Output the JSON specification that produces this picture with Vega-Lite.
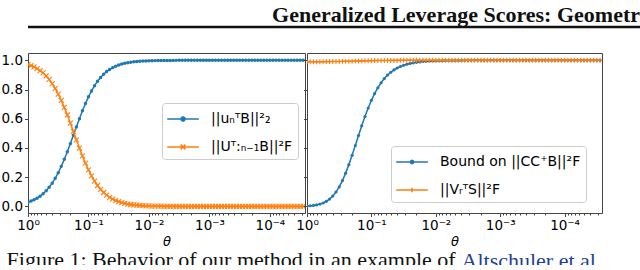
{
"$schema": "https://vega.github.io/schema/vega-lite/v6.json",
"padding": {"left": 0, "top": 3, "right": 0, "bottom": -7},
"background": "white",
"config": {
  "font": "DejaVu Sans",
  "view": {"stroke": "#444", "strokeWidth": 1},
  "axis": {"labelFont": "DejaVu Sans", "labelFontSize": 13.5, "labelColor": "#000", "tickColor": "#444", "domain": false, "grid": false, "titleFont": "DejaVu Sans", "titleFontSize": 13, "titleFontWeight": "normal", "titleColor": "#000"},
  "legend": {"labelFont": "DejaVu Sans", "labelFontSize": 14, "labelColor": "#000", "labelOffset": 22, "symbolSize": 400, "fillColor": "rgba(255,255,255,0.85)", "strokeColor": "#cccccc", "cornerRadius": 3, "padding": 5, "rowPadding": 10, "title": null}
},
"title": {"text": "Figure 1: Behavior of our method in an example of", "orient": "bottom", "anchor": "start", "font": "Liberation Serif", "fontSize": 22, "fontWeight": "normal", "color": "#111", "offset": -22, "dx": 6},
"datasets": {"d": [
{"t":1,"b1":0.0291,"o1":0.9709,"b2":0.003,"o2":0.9903},
{"t":0.8913,"b1":0.0364,"o1":0.9636,"b2":0.0046,"o2":0.9904},
{"t":0.7943,"b1":0.0454,"o1":0.9546,"b2":0.007,"o2":0.9905},
{"t":0.7079,"b1":0.0565,"o1":0.9435,"b2":0.0106,"o2":0.9906},
{"t":0.631,"b1":0.0701,"o1":0.9299,"b2":0.016,"o2":0.9907},
{"t":0.5623,"b1":0.0867,"o1":0.9133,"b2":0.0237,"o2":0.9909},
{"t":0.5012,"b1":0.1067,"o1":0.8933,"b2":0.0348,"o2":0.9911},
{"t":0.4467,"b1":0.1307,"o1":0.8693,"b2":0.0502,"o2":0.9913},
{"t":0.3981,"b1":0.1592,"o1":0.8408,"b2":0.071,"o2":0.9916},
{"t":0.3548,"b1":0.1924,"o1":0.8076,"b2":0.0985,"o2":0.9919},
{"t":0.3162,"b1":0.2308,"o1":0.7692,"b2":0.1336,"o2":0.9923},
{"t":0.2818,"b1":0.2741,"o1":0.7259,"b2":0.1767,"o2":0.9927},
{"t":0.2512,"b1":0.3223,"o1":0.6777,"b2":0.2278,"o2":0.9932},
{"t":0.2239,"b1":0.3744,"o1":0.6256,"b2":0.286,"o2":0.9937},
{"t":0.1995,"b1":0.4297,"o1":0.5703,"b2":0.3497,"o2":0.9943},
{"t":0.1778,"b1":0.4869,"o1":0.5131,"b2":0.4168,"o2":0.9949},
{"t":0.1585,"b1":0.5443,"o1":0.4557,"b2":0.4849,"o2":0.9954},
{"t":0.1413,"b1":0.6006,"o1":0.3994,"b2":0.5516,"o2":0.996},
{"t":0.1259,"b1":0.6543,"o1":0.3457,"b2":0.615,"o2":0.9965},
{"t":0.1122,"b1":0.7044,"o1":0.2956,"b2":0.6734,"o2":0.997},
{"t":0.1,"b1":0.75,"o1":0.25,"b2":0.7261,"o2":0.9975},
{"t":0.08913,"b1":0.7906,"o1":0.2094,"b2":0.7723,"o2":0.9979},
{"t":0.07943,"b1":0.8262,"o1":0.1738,"b2":0.8124,"o2":0.9983},
{"t":0.07079,"b1":0.8568,"o1":0.1432,"b2":0.8464,"o2":0.9986},
{"t":0.0631,"b1":0.8828,"o1":0.1172,"b2":0.875,"o2":0.9988},
{"t":0.05623,"b1":0.9047,"o1":0.0953,"b2":0.8987,"o2":0.999},
{"t":0.05012,"b1":0.9227,"o1":0.0773,"b2":0.9182,"o2":0.9992},
{"t":0.04467,"b1":0.9376,"o1":0.0624,"b2":0.9342,"o2":0.9994},
{"t":0.03981,"b1":0.9498,"o1":0.0502,"b2":0.9472,"o2":0.9995},
{"t":0.03548,"b1":0.9597,"o1":0.0403,"b2":0.9577,"o2":0.9996},
{"t":0.03162,"b1":0.9677,"o1":0.0323,"b2":0.9661,"o2":0.9997},
{"t":0.02818,"b1":0.9742,"o1":0.0258,"b2":0.973,"o2":0.9997},
{"t":0.02512,"b1":0.9794,"o1":0.0206,"b2":0.9785,"o2":0.9998},
{"t":0.02239,"b1":0.9836,"o1":0.0164,"b2":0.9828,"o2":0.9998},
{"t":0.01995,"b1":0.9869,"o1":0.0131,"b2":0.9863,"o2":0.9999},
{"t":0.01778,"b1":0.9896,"o1":0.0104,"b2":0.9891,"o2":0.9999},
{"t":0.01585,"b1":0.9917,"o1":0.0083,"b2":0.9913,"o2":0.9999},
{"t":0.01413,"b1":0.9934,"o1":0.0066,"b2":0.9931,"o2":0.9999},
{"t":0.01259,"b1":0.9947,"o1":0.0053,"b2":0.9945,"o2":0.9999},
{"t":0.01122,"b1":0.9958,"o1":0.0042,"b2":0.9956,"o2":1},
{"t":0.01,"b1":0.9967,"o1":0.0033,"b2":0.9965,"o2":1},
{"t":0.008913,"b1":0.9974,"o1":0.0026,"b2":0.9972,"o2":1},
{"t":0.007943,"b1":0.9979,"o1":0.0021,"b2":0.9978,"o2":1},
{"t":0.007079,"b1":0.9983,"o1":0.0017,"b2":0.9983,"o2":1},
{"t":0.00631,"b1":0.9987,"o1":0.0013,"b2":0.9986,"o2":1},
{"t":0.005623,"b1":0.9989,"o1":0.0011,"b2":0.9989,"o2":1},
{"t":0.005012,"b1":0.9992,"o1":0.0008,"b2":0.9991,"o2":1},
{"t":0.004467,"b1":0.9993,"o1":0.0007,"b2":0.9993,"o2":1},
{"t":0.003981,"b1":0.9995,"o1":0.0005,"b2":0.9995,"o2":1},
{"t":0.003548,"b1":0.9996,"o1":0.0004,"b2":0.9996,"o2":1},
{"t":0.003162,"b1":0.9997,"o1":0.0003,"b2":0.9997,"o2":1},
{"t":0.002818,"b1":0.9997,"o1":0.0003,"b2":0.9997,"o2":1},
{"t":0.002512,"b1":0.9998,"o1":0.0002,"b2":0.9998,"o2":1},
{"t":0.002239,"b1":0.9998,"o1":0.0002,"b2":0.9998,"o2":1},
{"t":0.001995,"b1":0.9999,"o1":0.0001,"b2":0.9999,"o2":1},
{"t":0.001778,"b1":0.9999,"o1":0.0001,"b2":0.9999,"o2":1},
{"t":0.001585,"b1":0.9999,"o1":0.0001,"b2":0.9999,"o2":1},
{"t":0.001413,"b1":0.9999,"o1":0.0001,"b2":0.9999,"o2":1},
{"t":0.001259,"b1":1,"o1":0,"b2":1,"o2":1},
{"t":0.001122,"b1":1,"o1":0,"b2":1,"o2":1},
{"t":0.001,"b1":1,"o1":0,"b2":1,"o2":1},
{"t":0.0008913,"b1":1,"o1":0,"b2":1,"o2":1},
{"t":0.0007943,"b1":1,"o1":0,"b2":1,"o2":1},
{"t":0.0007079,"b1":1,"o1":0,"b2":1,"o2":1},
{"t":0.000631,"b1":1,"o1":0,"b2":1,"o2":1},
{"t":0.0005623,"b1":1,"o1":0,"b2":1,"o2":1},
{"t":0.0005012,"b1":1,"o1":0,"b2":1,"o2":1},
{"t":0.0004467,"b1":1,"o1":0,"b2":1,"o2":1},
{"t":0.0003981,"b1":1,"o1":0,"b2":1,"o2":1},
{"t":0.0003548,"b1":1,"o1":0,"b2":1,"o2":1},
{"t":0.0003162,"b1":1,"o1":0,"b2":1,"o2":1},
{"t":0.0002818,"b1":1,"o1":0,"b2":1,"o2":1},
{"t":0.0002512,"b1":1,"o1":0,"b2":1,"o2":1},
{"t":0.0002239,"b1":1,"o1":0,"b2":1,"o2":1},
{"t":0.0001995,"b1":1,"o1":0,"b2":1,"o2":1},
{"t":0.0001778,"b1":1,"o1":0,"b2":1,"o2":1},
{"t":0.0001585,"b1":1,"o1":0,"b2":1,"o2":1},
{"t":0.0001413,"b1":1,"o1":0,"b2":1,"o2":1},
{"t":0.0001259,"b1":1,"o1":0,"b2":1,"o2":1},
{"t":0.0001122,"b1":1,"o1":0,"b2":1,"o2":1},
{"t":0.0001,"b1":1,"o1":0,"b2":1,"o2":1},
{"t":8.913e-5,"b1":1,"o1":0,"b2":1,"o2":1},
{"t":7.943e-5,"b1":1,"o1":0,"b2":1,"o2":1},
{"t":7.079e-5,"b1":1,"o1":0,"b2":1,"o2":1},
{"t":6.31e-5,"b1":1,"o1":0,"b2":1,"o2":1},
{"t":5.623e-5,"b1":1,"o1":0,"b2":1,"o2":1},
{"t":5.012e-5,"b1":1,"o1":0,"b2":1,"o2":1},
{"t":4.467e-5,"b1":1,"o1":0,"b2":1,"o2":1},
{"t":3.981e-5,"b1":1,"o1":0,"b2":1,"o2":1},
{"t":3.548e-5,"b1":1,"o1":0,"b2":1,"o2":1},
{"t":3.162e-5,"b1":1,"o1":0,"b2":1,"o2":1},
{"t":2.818e-5,"b1":1,"o1":0,"b2":1,"o2":1}
]},
"spacing": 23,
"columns": 1,
"align": "none",
"concat": [
  {
    "width": 612, "height": 2,
    "data": {"values": [{"v": 0}]},
    "title": {"text": "Generalized Leverage Scores: Geometr", "anchor": "end", "frame": "group", "font": "Liberation Serif", "fontSize": 22, "fontWeight": "bold", "color": "#111", "offset": -1},
    "view": {"stroke": null},
    "mark": {"type": "rule", "strokeWidth": 2.5, "color": "#111"},
    "encoding": {"y": {"field": "v", "type": "quantitative", "scale": {"domain": [-1, 1]}, "axis": null}}
  },
  {
    "spacing": 2,
    "bounds": "flush",
    "resolve": {"scale": {"color": "independent"}, "legend": {"color": "independent"}},
    "title": {"text": "Altschuler et al.", "orient": "bottom", "anchor": "start", "dx": 461, "font": "Liberation Serif", "fontSize": 22, "fontWeight": "normal", "color": "#1f3f99", "offset": 2},
    "hconcat": [
      {
        "width": 277, "height": 160,
        "data": {"name": "d"},
        "transform": [{"fold": ["b1", "o1"], "as": ["s", "v"]}],
        "encoding": {
          "y": {"field": "v", "type": "quantitative", "scale": {"domain": [-0.045, 1.05], "nice": false, "zero": false}, "axis": {"values": [0, 0.2, 0.4, 0.6, 0.8, 1], "format": ".1f", "title": null, "tickSize": 3.5, "labelPadding": 2}},
          "color": {"field": "s", "type": "nominal", "scale": {"domain": ["b1", "o1"], "range": ["#1f77b4", "#ff7f0e"]},
            "legend": {"orient": "none", "legendX": 134, "legendY": 50,
              "labelExpr": "datum.value === 'b1' ? '||uₙᵀB||²₂' : '||Uᵀ:ₙ₋₁B||²F'",
              "encode": {"symbols": {"update": {
                "shape": {"signal": "datum.value === 'b1' ? 'M-1.075,0H2.085M0.715,0L0.653,0.148L0.505,0.21L0.357,0.148L0.295,0L0.357,-0.148L0.505,-0.21L0.653,-0.148Z' : 'M-1.075,0H2.085M0.265,-0.24L0.745,0.24M0.265,0.24L0.745,-0.24'"},
                "stroke": {"signal": "datum.value === 'b1' ? '#1f77b4' : '#ff7f0e'"},
                "fill": {"signal": "datum.value === 'b1' ? '#1f77b4' : '#ff7f0e'"},
                "strokeWidth": {"value": 1.5},
                "opacity": {"value": 1}
              }}}
            }
          }
        },
        "resolve": {"axis": {"x": "independent"}},
        "layer": [
          {"transform": [{"filter": "datum.s === 'b1'"}], "mark": {"type": "line", "strokeWidth": 1.5, "clip": true},
           "encoding": {"x": {"field": "t", "type": "quantitative", "scale": {"type": "log", "domain": [1, 2.63e-5], "nice": false, "zero": false},
             "axis": {"values": [1, 0.1, 0.01, 0.001, 0.0001], "labelExpr": "datum.value > 0.5 ? '10⁰' : datum.value > 0.05 ? '10⁻¹' : datum.value > 0.005 ? '10⁻²' : datum.value > 0.0005 ? '10⁻³' : '10⁻⁴'", "title": "θ", "titleFontStyle": "italic", "tickSize": 3.5, "labelPadding": 2, "titlePadding": 3, "labelFlush": false, "labelOverlap": false}}}},
          {"transform": [{"filter": "datum.s === 'b1'"}], "mark": {"type": "point", "shape": "circle", "filled": true, "size": 12, "opacity": 1, "clip": true},
           "encoding": {"x": {"field": "t", "type": "quantitative", "scale": {"type": "log", "domain": [1, 2.63e-5], "nice": false, "zero": false},
             "axis": {"orient": "bottom", "values": [0.9,0.8,0.7,0.6,0.5,0.4,0.3,0.2,0.09,0.08,0.07,0.06,0.05,0.04,0.03,0.02,0.009,0.008,0.007,0.006,0.005,0.004,0.003,0.002,0.0009,0.0008,0.0007,0.0006,0.0005,0.0004,0.0003,0.0002,9e-5,8e-5,7e-5,6e-5,5e-5,4e-5,3e-5], "labels": false, "tickSize": 2, "title": null}}}},
          {"transform": [{"filter": "datum.s === 'o1'"}], "mark": {"type": "line", "strokeWidth": 1.5, "clip": true},
           "encoding": {"x": {"field": "t", "type": "quantitative", "axis": null}}},
          {"transform": [{"filter": "datum.s === 'o1'"}], "mark": {"type": "point", "shape": "M-1,-1L1,1M-1,1L1,-1", "filled": false, "size": 25, "strokeWidth": 1.1, "opacity": 1, "clip": true},
           "encoding": {"x": {"field": "t", "type": "quantitative", "axis": null}}}
        ]
      },
      {
        "width": 295, "height": 160,
        "data": {"name": "d"},
        "transform": [{"fold": ["b2", "o2"], "as": ["s", "v"]}],
        "encoding": {
          "y": {"field": "v", "type": "quantitative", "scale": {"domain": [-0.045, 1.05], "nice": false, "zero": false}, "axis": {"values": [0, 0.2, 0.4, 0.6, 0.8, 1], "labels": false, "title": null, "tickSize": 3.5}},
          "color": {"field": "s", "type": "nominal", "scale": {"domain": ["b2", "o2"], "range": ["#1f77b4", "#ff7f0e"]},
            "legend": {"orient": "none", "legendX": 84, "legendY": 93,
              "labelExpr": "datum.value === 'b2' ? 'Bound on ||CC⁺B||²F' : '||VᵣᵀS||²F'",
              "encode": {"symbols": {"update": {
                "shape": {"signal": "datum.value === 'b2' ? 'M-1.075,0H2.085M0.665,0L0.618,0.113L0.505,0.16L0.392,0.113L0.345,0L0.392,-0.113L0.505,-0.16L0.618,-0.113Z' : 'M-1.075,0H2.085M0.505,-0.22V0.22'"},
                "stroke": {"signal": "datum.value === 'b2' ? '#1f77b4' : '#ff7f0e'"},
                "fill": {"signal": "datum.value === 'b2' ? '#1f77b4' : '#ff7f0e'"},
                "strokeWidth": {"value": 1.5},
                "opacity": {"value": 1}
              }}}
            }
          }
        },
        "resolve": {"axis": {"x": "independent"}},
        "layer": [
          {"transform": [{"filter": "datum.s === 'b2'"}], "mark": {"type": "line", "strokeWidth": 1.5, "clip": true},
           "encoding": {"x": {"field": "t", "type": "quantitative", "scale": {"type": "log", "domain": [1, 2.63e-5], "nice": false, "zero": false},
             "axis": {"values": [1, 0.1, 0.01, 0.001, 0.0001], "labelExpr": "datum.value > 0.5 ? '10⁰' : datum.value > 0.05 ? '10⁻¹' : datum.value > 0.005 ? '10⁻²' : datum.value > 0.0005 ? '10⁻³' : '10⁻⁴'", "title": "θ", "titleFontStyle": "italic", "tickSize": 3.5, "labelPadding": 2, "titlePadding": 3, "labelFlush": false, "labelOverlap": false}}}},
          {"transform": [{"filter": "datum.s === 'b2'"}], "mark": {"type": "point", "shape": "circle", "filled": true, "size": 10, "opacity": 1, "clip": true},
           "encoding": {"x": {"field": "t", "type": "quantitative", "scale": {"type": "log", "domain": [1, 2.63e-5], "nice": false, "zero": false},
             "axis": {"orient": "bottom", "values": [0.9,0.8,0.7,0.6,0.5,0.4,0.3,0.2,0.09,0.08,0.07,0.06,0.05,0.04,0.03,0.02,0.009,0.008,0.007,0.006,0.005,0.004,0.003,0.002,0.0009,0.0008,0.0007,0.0006,0.0005,0.0004,0.0003,0.0002,9e-5,8e-5,7e-5,6e-5,5e-5,4e-5,3e-5], "labels": false, "tickSize": 2, "title": null}}}},
          {"transform": [{"filter": "datum.s === 'o2'"}], "mark": {"type": "line", "strokeWidth": 1.5, "clip": true},
           "encoding": {"x": {"field": "t", "type": "quantitative", "axis": null}}},
          {"transform": [{"filter": "datum.s === 'o2'"}], "mark": {"type": "point", "shape": "M-1,0H1M0,-1V1", "filled": false, "size": 25, "strokeWidth": 1.1, "opacity": 1, "clip": true},
           "encoding": {"x": {"field": "t", "type": "quantitative", "axis": null}}}
        ]
      }
    ]
  }
]
}
